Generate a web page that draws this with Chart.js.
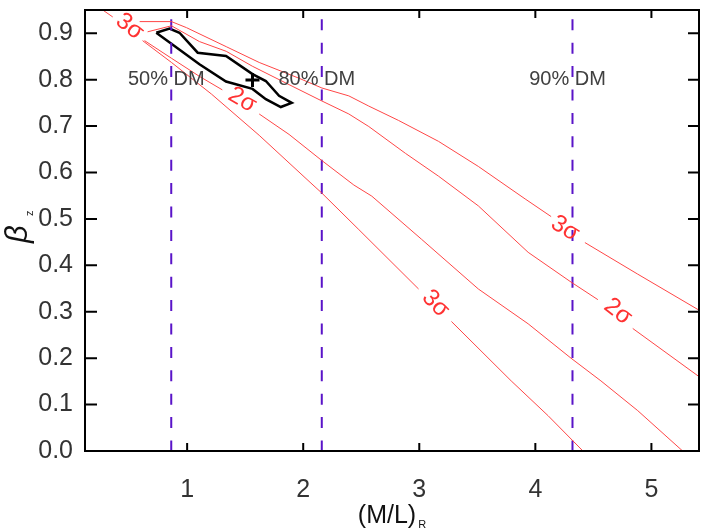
<!DOCTYPE html>
<html><head><meta charset="utf-8">
<script src="https://cdn.jsdelivr.net/npm/chart.js@4/dist/chart.umd.min.js"></script>
<style>html,body{margin:0;padding:0;background:#fff}#wrap{width:709px;height:532px;position:relative}</style>
</head><body><div id="wrap"><canvas id="c"></canvas></div>
<script>
// ---- data ----
const xTicks = [1, 2, 3, 4, 5];
const yTicks = [0.0, 0.1, 0.2, 0.3, 0.4, 0.5, 0.6, 0.7, 0.8, 0.9];

// 3-sigma contour, upper branch (null = gap for the label)
const sig3UpperX = [0.591, 0.865, 0.994, 1.337, 1.621, 1.964, 2.161, 2.393, 2.565, 2.822, 3.166, 3.509, 3.912, 4.136, 4.28, 4.427, 4.882, 5.406];
const sig3UpperY = [0.925, 0.925, 0.912, 0.871, 0.837, 0.803, 0.782, 0.765, 0.743, 0.712, 0.667, 0.613, 0.543, 0.505, null, 0.449, 0.381, 0.304];
// 2-sigma contour, upper branch
const sig2UpperX = [0.659, 0.865, 1.106, 1.337, 1.561, 1.904, 2.161, 2.393, 2.565, 2.882, 3.166, 3.509, 3.938, 4.307, 4.539, 4.69, 4.839, 5.406];
const sig2UpperY = [0.903, 0.916, 0.882, 0.861, 0.829, 0.786, 0.754, 0.726, 0.699, 0.641, 0.592, 0.528, 0.428, 0.364, 0.326, null, 0.264, 0.161];
// 2-sigma contour, lower branch
const sig2LowerX = [0.633, 0.865, 1.106, 1.303, 1.46, 1.621, 1.878, 2.159, 2.436, 2.591, 3.020, 3.509, 3.938, 4.307, 4.565, 4.882, 5.269];
const sig2LowerY = [0.884, 0.846, 0.807, 0.778, null, 0.726, 0.682, 0.626, 0.573, 0.549, 0.456, 0.349, 0.274, 0.200, 0.151, 0.087, 0.0];
// 3-sigma contour, lower branch
const sig3LowerX = [0.273, 0.359, 0.48, 0.616, 0.865, 1.209, 1.621, 2.067, 2.159, 2.479, 2.994, 3.14, 3.277, 3.792, 4.110, 4.410];
const sig3LowerY = [0.950, 0.935, null, 0.884, 0.837, 0.769, 0.680, 0.577, 0.556, 0.477, 0.349, null, 0.279, 0.151, 0.076, 0.0];
// 1-sigma (black) contour, closed
const sig1X = [0.734, 0.848, 0.934, 1.091, 1.335, 1.563, 1.678, 1.792, 1.901, 1.807, 1.678, 1.563, 1.335, 1.106, 0.876, 0.734];
const sig1Y = [0.901, 0.910, 0.901, 0.858, 0.851, 0.812, 0.797, 0.765, 0.750, 0.741, 0.758, 0.780, 0.796, 0.833, 0.875, 0.901];
// best fit
const bestX = [1.563];
const bestY = [0.799];
// dark-matter fraction lines
const dmLabels = ['50% DM', '80% DM', '90% DM'];
const dmX = [0.863, 2.16, 4.32];
const dmYTop = 0.93;
const dmLabelY = 0.8;
// contour labels
const sigLabels = ['3σ', '2σ', '3σ', '2σ', '3σ'];
const sigLabelX = [0.505, 1.475, 4.256, 4.711, 3.140];
const sigLabelY = [0.914, 0.756, 0.479, 0.300, 0.317];

// ---- helpers ----
const pts = (xs, ys) => xs.map((x, i) => ({x: x, y: ys[i] === null ? null : ys[i]}));
const RED = 'rgb(255,70,70)';
const PURPLE = '#5a14c8';
const FONT = '"Liberation Sans", Arial, Helvetica, sans-serif';
const sigAngles = [38, 30, 32, 38, 45];

const redLine = (xs, ys) => ({data: pts(xs, ys), showLine: true, borderColor: RED, borderWidth: 1, pointRadius: 0, spanGaps: false, tension: 0});
const datasets = [
  redLine(sig3UpperX, sig3UpperY),
  redLine(sig2UpperX, sig2UpperY),
  redLine(sig2LowerX, sig2LowerY),
  redLine(sig3LowerX, sig3LowerY),
];
dmX.forEach(x => datasets.push({data: [{x: x, y: dmYTop}, {x: x, y: 0}], showLine: true, borderColor: PURPLE, borderWidth: 2, borderDash: [11, 12.4], pointRadius: 0}));
datasets.push({data: pts(sig1X, sig1Y), showLine: true, borderColor: '#000', borderWidth: 2.5, pointRadius: 0, tension: 0});
datasets.push({data: pts(bestX, bestY), showLine: false, pointStyle: 'cross', pointRadius: 7, borderColor: '#000', borderWidth: 3});

const decor = {
  id: 'decor',
  afterDatasetsDraw(chart) {
    const {ctx, chartArea: a, scales: {x, y}} = chart;
    ctx.save();
    // frame
    ctx.strokeStyle = '#000'; ctx.lineWidth = 2;
    ctx.strokeRect(a.left, a.top, a.right - a.left, a.bottom - a.top);
    // inward ticks
    ctx.lineWidth = 2;
    ctx.beginPath();
    yTicks.forEach(v => { const p = y.getPixelForValue(v); ctx.moveTo(a.left, p); ctx.lineTo(a.left + 12, p); ctx.moveTo(a.right, p); ctx.lineTo(a.right - 11, p); });
    xTicks.forEach(v => { const p = x.getPixelForValue(v); ctx.moveTo(p, a.bottom); ctx.lineTo(p, a.bottom - 8); ctx.moveTo(p, a.top); ctx.lineTo(p, a.top + 8); });
    ctx.stroke();
    // DM labels
    ctx.fillStyle = '#404040'; ctx.font = '20px ' + FONT; ctx.textAlign = 'center'; ctx.textBaseline = 'middle';
    dmLabels.forEach((t, i) => ctx.fillText(t, x.getPixelForValue(dmX[i]) - 5, y.getPixelForValue(dmLabelY)));
    // sigma labels
    ctx.fillStyle = 'rgb(255,50,50)'; ctx.font = '24px ' + FONT;
    sigLabels.forEach((t, i) => {
      ctx.save();
      ctx.translate(x.getPixelForValue(sigLabelX[i]), y.getPixelForValue(sigLabelY[i]));
      ctx.rotate(sigAngles[i] * Math.PI / 180);
      ctx.fillText(t, 0, 0);
      ctx.restore();
    });
    // axis titles
    ctx.fillStyle = '#111'; ctx.textAlign = 'left'; ctx.textBaseline = 'alphabetic';
    ctx.font = '25px ' + FONT;
    const main = '(M/L)';
    const mw = ctx.measureText(main).width;
    ctx.font = '11px ' + FONT;
    const sw = ctx.measureText('R').width;
    const cx = (a.left + a.right) / 2;
    const sx = cx - (mw + 2 + sw) / 2;
    ctx.font = '25px ' + FONT; ctx.fillText(main, sx, 523);
    ctx.font = '11px ' + FONT; ctx.fillText('R', sx + mw + 2, 528);
    ctx.save();
    ctx.translate(27, 243);
    ctx.rotate(-Math.PI / 2);
    ctx.font = 'italic 31px ' + FONT; ctx.fillText('β', 0, 0);
    ctx.font = '11px ' + FONT; ctx.fillText('z', 27, 6);
    ctx.restore();
    ctx.restore();
  }
};

new Chart(document.getElementById('c'), {
  type: 'scatter',
  data: {datasets: datasets},
  options: {
    responsive: true, maintainAspectRatio: false, animation: false, devicePixelRatio: 1,
    layout: {padding: {top: 5, right: 8, left: 0, bottom: 0}},
    plugins: {legend: {display: false}, tooltip: {enabled: false}},
    scales: {
      x: {
        type: 'linear', min: 0.12, max: 5.41,
        afterFit: s => { s.height = 81; s.paddingLeft = 0; s.paddingRight = 0; },
        afterBuildTicks: s => { s.ticks = xTicks.map(v => ({value: v})); },
        grid: {display: false, drawTicks: false},
        border: {display: false},
        ticks: {padding: 24, color: '#333', font: {family: FONT, size: 25}, maxRotation: 0, callback: v => String(v)}
      },
      y: {
        type: 'linear', min: 0, max: 0.95,
        afterFit: s => { s.width = 85; s.paddingTop = 0; s.paddingBottom = 0; },
        afterBuildTicks: s => { s.ticks = yTicks.map(v => ({value: v})); },
        grid: {display: false, drawTicks: false},
        border: {display: false},
        ticks: {padding: 12, color: '#333', font: {family: FONT, size: 25}, callback: v => v.toFixed(1)}
      }
    }
  },
  plugins: [decor]
});
</script>
</body></html>
